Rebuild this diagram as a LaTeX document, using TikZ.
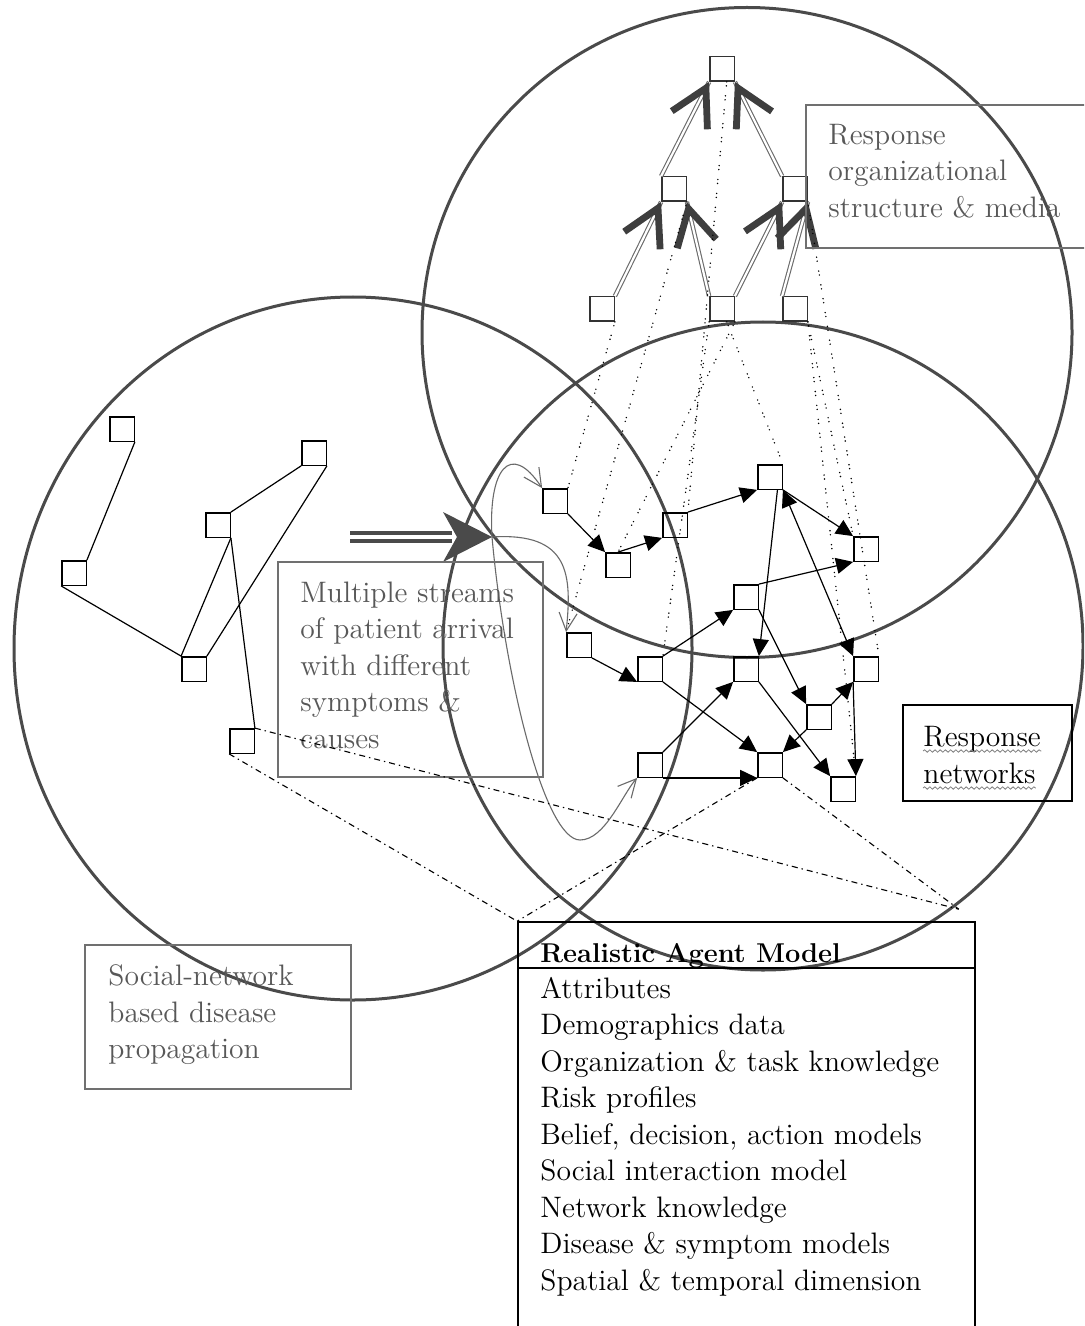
\documentclass[tikz,border=0pt]{standalone}
\usepackage{fontspec}
\usetikzlibrary{arrows.meta,calc,fit,decorations.pathmorphing}
\definecolor{ringgray}{HTML}{4A4A4A}
\definecolor{boxgray}{HTML}{707070}
\definecolor{txtgray}{HTML}{585858}
\definecolor{shaftgray}{HTML}{6A6A6A}
\definecolor{barbgray}{HTML}{3E3E3E}
\definecolor{streamgray}{HTML}{6A6A6A}
\newcommand\orgarrow[2]{%
  \draw[oshaft] (#1) -- (#2);
  \draw[obarb] ($(#1)!0.93!(#2)$) -- (#2);}
\begin{document}
\begin{tikzpicture}[x=0.5pt,y=-0.5pt,
  ring/.style={draw=ringgray, line width=1.5pt},
  sq/.style={draw=black, line width=0.7pt, minimum size=12.2pt, inner sep=0pt},
  osq/.style={sq, draw=black!80},
  net/.style={draw=black, line width=0.6pt, -{Triangle[length=8.5pt,width=8pt]}},
  twoway/.style={draw=black, line width=0.6pt, {Triangle[length=8.5pt,width=8pt]}-{Triangle[length=8.5pt,width=8pt]}},
  tie/.style={draw=black, line width=0.6pt},
  proj/.style={draw=black, line width=0.8pt, line cap=round, dash pattern=on 0pt off 2pt on 0pt off 5pt},
  dashdot/.style={draw=black, line width=0.55pt, dash pattern=on 3pt off 2pt on 0.7pt off 2pt},
  oshaft/.style={draw=shaftgray, line width=0.55pt, double=white, double distance=1.1pt},
  obarb/.style={draw=shaftgray, line width=0.4pt, -{Straight Barb[length=18pt,width=20pt,line width=3.4pt,color=barbgray]}},
  stream/.style={draw=streamgray, line width=0.55pt, -{Straight Barb[length=9pt,width=9pt,line width=0.55pt]}},
  bigshaft/.style={draw=ringgray, line width=1.6pt, double=white, double distance=2.4pt},
  bighead/.style={fill=ringgray},
  gbox/.style={draw=boxgray, line width=0.8pt, inner sep=0pt},
  kbox/.style={draw=black, line width=0.8pt, inner sep=0pt},
  txt/.style={font=\fontsize{14.8}{18}\selectfont, anchor=base west, inner sep=0pt},
  gtxt/.style={txt, text=txtgray},
  wavy/.style={draw=gray, line width=0.4pt, decorate, decoration={snake, amplitude=0.6pt, segment length=2.6pt}},
]
\useasboundingbox (0,0) rectangle (1084,1326);
\clip (0,0) rectangle (1084,1326);
\fill[white] (0,0) rectangle (1084,1326);

% the three overlapping domains
\draw[ring] (747,332.5) circle [radius=325];
\draw[ring] (353,648.5) ellipse [x radius=339, y radius=351.5];
\draw[ring] (763,646) ellipse [x radius=320, y radius=324];

% response organisation hierarchy
\node[osq] (o0) at (722,69) {};
\node[osq] (o1) at (674,189) {};
\node[osq] (o2) at (795,189) {};
\node[osq] (o3) at (602,309) {};
\node[osq] (o4) at (722,309) {};
\node[osq] (o5) at (795,309) {};

\orgarrow{o1.north west}{o0.south west}
\orgarrow{o2.north west}{o0.south east}
\orgarrow{o3.north east}{o1.south west}
\orgarrow{o4.north west}{o1.south east}
\orgarrow{o4.north east}{o2.south west}
\orgarrow{o5.north west}{o2.south east}

% response network
\node[sq] (rA) at (555,501) {};
\node[sq] (rB) at (618,565) {};
\node[sq] (rC) at (675,525) {};
\node[sq] (rD) at (770,477) {};
\node[sq] (rE) at (866,549) {};
\node[sq] (rF) at (746,597) {};
\node[sq] (rG) at (579,645) {};
\node[sq] (rH) at (650,669) {};
\node[sq] (rI) at (746,669) {};
\node[sq] (rJ) at (866,669) {};
\node[sq] (rK) at (819,717) {};
\node[sq] (rL) at (650,765) {};
\node[sq] (rM) at (770,765) {};
\node[sq] (rN) at (843,789) {};

\draw[net] (rA.south east) -- (rB.north west);
\draw[net] (rB.north) -- (rC.south west);
\draw[net] (rC.north east) -- (rD.south west);
\draw[net] (rD.south east) -- (rE.north west);
\draw[twoway] (rD.south east) -- (rJ.north west);
\draw[net] (rD.300) -- (rI.north east);
\draw[net] (rF.north east) -- (rE.south west);
\draw[net] (rH.north east) -- (rF.south west);
\draw[net] (rG.south east) -- (rH.south west);
\draw[net] (rF.south east) -- (rK.north west);
\draw[net] (rH.south east) -- (rM.north west);
\draw[net] (rL.north east) -- (rI.south west);
\draw[net] (rL.south east) -- (rM.south west);
\draw[net] (rI.south east) -- (rN.north west);
\draw[net] (rK.south west) -- (rM.north east);
\draw[net] (rK.north east) -- (rJ.south west);
\draw[net] (rJ.south west) -- (rN.north east);

% mapping of the organisation onto the network
\draw[proj] (o3.south east) -- (rA.north east);
\draw[proj] (o1.south east) -- (rG.north west);
\draw[proj] (o0.290) -- (rC.north east);
\draw[proj] (o4.south east) -- (rB.north);
\draw[proj] (o4.south west) -- (rH.north east);
\draw[proj] (o4.290) -- (rD.north east);
\draw[proj] (o5.south east) -- (rE.north west);
\draw[proj] (o2.south east) -- (rJ.north east);
\draw[proj] (o5.south east) -- (rN.north east);

% social network
\node[sq] (s1) at (122,429) {};
\node[sq] (s2) at (314,453) {};
\node[sq] (s3) at (218,525) {};
\node[sq] (s4) at (74,573) {};
\node[sq] (s5) at (194,669) {};
\node[sq] (s6) at (242,741) {};

\draw[tie] (s1.south east) -- (s4.north east);
\draw[tie] (s4.south west) -- (s5.north west);
\draw[tie] (s3.north east) -- (s2.south west);
\draw[tie] (s2.south east) -- (s5.north east);
\draw[tie] (s3.south east) -- (s5.north west);
\draw[tie] (s3.south east) -- (s6.north east);

% patient arrival
\coordinate (bigtail) at (350,537);
\coordinate (bigtip) at (492,537);
\draw[bigshaft] (bigtail) -- ($(bigtip)+(-40,0)$);
\fill[bighead] (bigtip) -- ++(-49,-25) -- ++(14,25) -- ++(-14,25) -- cycle;

\draw[stream] (bigtip) .. controls (488,470) and (510,440) .. (rA.north west);
\draw[stream] (bigtip) .. controls (570,532) and (572,575) .. (rG.north west);
\draw[stream] (bigtip) .. controls (505,680) and (545,840) .. (580,840)
  .. controls (605,840) and (622,795) .. (rL.south west);

% text boxes
\node[gbox, fit={(806,105) (1110,248)}] (orgbox) {};
\node[gtxt] (org1) at (828,145) {Response};
\node[gtxt] (org2) at (828,181) {organizational};
\node[gtxt] (org3) at (828,218) {structure \& media};

\node[gbox, fit={(278,562) (543,777)}] (streambox) {};
\node[gtxt] (st1) at (300,602) {Multiple streams};
\node[gtxt] (st2) at (300,638.5) {of patient arrival};
\node[gtxt] (st3) at (300,675) {with different};
\node[gtxt] (st4) at (300,711.5) {symptoms \&};
\node[gtxt] (st5) at (300,748) {causes};

\node[gbox, fit={(85,945) (351,1089)}] (socbox) {};
\node[gtxt] (so1) at (108,985) {Social-network};
\node[gtxt] (so2) at (108,1022) {based disease};
\node[gtxt] (so3) at (108,1058) {propagation};

\node[kbox, fit={(903,705) (1072,801)}] (netbox) {};
\node[txt] (rn1) at (923,746) {Response};
\node[txt] (rn2) at (923,783) {networks};
\draw[wavy] ($(rn1.base west)+(0,5)$) -- ($(rn1.base east)+(0,5)$);
\draw[wavy] ($(rn2.base west)+(0,5)$) -- ($(rn2.base east)+(0,5)$);

% agent model
\node[kbox, fit={(518,922) (975,1345)}] (agent) {};
\draw[line width=0.8pt] ($(agent.north west)+(0,47)$) -- ($(agent.north east)+(0,47)$);
\node[txt, font=\fontsize{13.6}{18}\selectfont\bfseries] (ag0) at (540,962) {Realistic Agent Model};
\node[txt] (ag1) at (540,998) {Attributes};
\node[txt] (ag2) at (540,1034.5) {Demographics data};
\node[txt] (ag3) at (540,1071) {Organization \& task knowledge};
\node[txt] (ag4) at (540,1107.5) {Risk profiles};
\node[txt] (ag5) at (540,1144) {Belief, decision, action models};
\node[txt] (ag6) at (540,1180.5) {Social interaction model};
\node[txt] (ag7) at (540,1217) {Network knowledge};
\node[txt] (ag8) at (540,1253.5) {Disease \& symptom models};
\node[txt] (ag9) at (540,1290) {Spatial \& temporal dimension};

% links into the agent model
\coordinate (agentright) at ($(agent.north east)+(-17,-12)$);
\draw[dashdot] (s6.north east) -- (agentright);
\draw[dashdot] (s6.south west) -- (agent.north west);
\draw[dashdot] (rM.south west) -- (agent.north west);
\draw[dashdot] (rM.south east) -- (agentright);
\end{tikzpicture}
\end{document}
